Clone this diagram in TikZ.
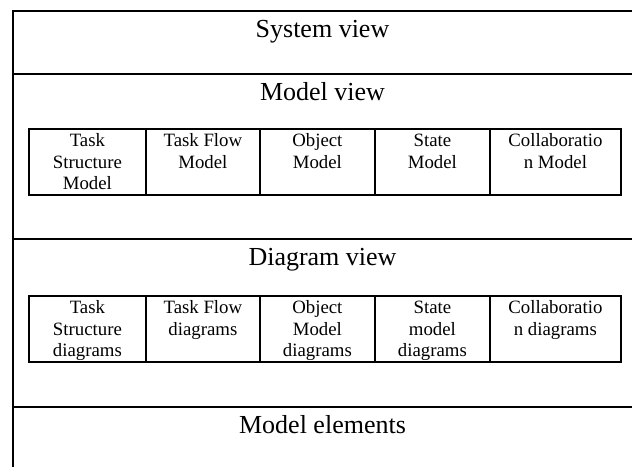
\documentclass[tikz,border=0pt]{standalone}
\usepackage{fontspec}
\setmainfont{Liberation Serif}
\tikzset{
  frameline/.style={line width=1.8pt},
  heading/.style={anchor=base, inner sep=0pt, font=\fontsize{26}{30}\selectfont},
  mbox/.style={draw, line width=1.8pt, inner sep=0pt, anchor=north west,
    text height=18pt, text depth=48pt, font=\fontsize{18.8}{21.5}\selectfont},
}
\begin{document}
\begin{tikzpicture}[x=1pt,y=-1pt]
\useasboundingbox (0,0) rectangle (632,467);
% frame
\coordinate (tr) at (632,10.7);
\coordinate (tl) at (13,10.7);
\coordinate (bl) at (13,467);
\draw[frameline] (tr) -- (tl) -- (bl);
\coordinate (l1a) at (13,74);  \coordinate (l1b) at (632,74);
\coordinate (l2a) at (13,239); \coordinate (l2b) at (632,239);
\coordinate (l3a) at (13,407); \coordinate (l3b) at (632,407);
\draw[frameline] (l1a) -- (l1b);
\draw[frameline] (l2a) -- (l2b);
\draw[frameline] (l3a) -- (l3b);
% headings
\node[heading] (sysv) at (322.5,37) {System view};
\node[heading] (modv) at (322.5,100) {Model view};
\node[heading] (diav) at (322.5,265) {Diagram view};
\node[heading] (mel) at (322.5,433) {Model elements};
% model row
\node[mbox] (m1) at (28,128) {\parbox[t]{117pt}{\centering Task\\Structure\\Model}};
\node[mbox] (m2) at (145,128) {\parbox[t]{114pt}{\centering Task Flow\\Model}};
\node[mbox] (m3) at (259,128) {\parbox[t]{115pt}{\centering Object\\Model}};
\node[mbox] (m4) at (374,128) {\parbox[t]{115pt}{\centering State\\Model}};
\node[mbox] (m5) at (489,128) {\parbox[t]{131pt}{\centering Collaboratio\\n Model}};
% diagram row
\node[mbox] (d1) at (28,295) {\parbox[t]{117pt}{\centering Task\\Structure\\diagrams}};
\node[mbox] (d2) at (145,295) {\parbox[t]{114pt}{\centering Task Flow\\diagrams}};
\node[mbox] (d3) at (259,295) {\parbox[t]{115pt}{\centering Object\\Model\\diagrams}};
\node[mbox] (d4) at (374,295) {\parbox[t]{115pt}{\centering State\\model\\diagrams}};
\node[mbox] (d5) at (489,295) {\parbox[t]{131pt}{\centering Collaboratio\\n diagrams}};
\end{tikzpicture}
\end{document}
